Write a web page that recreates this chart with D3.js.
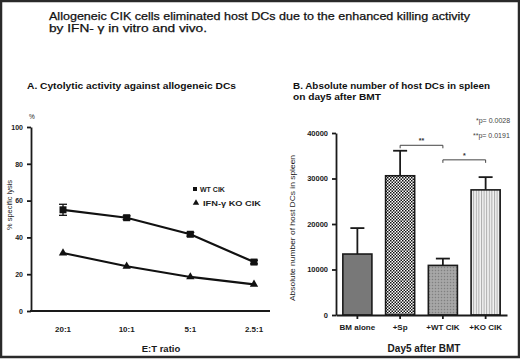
<!DOCTYPE html>
<html>
<head>
<meta charset="utf-8">
<script src="https://cdn.jsdelivr.net/npm/d3@7"></script>
<style>
  body { margin: 0; background: #fff; }
  svg { display: block; font-family: "Liberation Sans", Arial, sans-serif; }
  .axis path, .axis line { stroke: #1a1a1a; stroke-width: 1.8; }
  .axis text { fill: #1a1a1a; font-weight: bold; }
</style>
</head>
<body>
<div class="chart"></div>
<script>
// panel A data - % specific lysis by E:T ratio
var ratios = ["20:1", "10:1", "5:1", "2.5:1"];
var wtLysis = [55, 50.7, 41.7, 26.6];
var wtErr = [3, 1, 1, 1];
var koLysis = [31.5, 24.3, 18.5, 14.5];
var lysisTicks = [0, 20, 40, 60, 80, 100];

// panel B data - host DCs in spleen on day5
var groups = ["BM alone", "+Sp", "+WT CIK", "+KO CIK"];
var dcMean = [13400, 30600, 10900, 27500];
var dcSem = [5700, 5500, 1500, 2800];
var dcTicks = [0, 10000, 20000, 30000, 40000];

var svgWidth = 520, svgHeight = 359;

var svg = d3.select(".chart").append("svg")
  .attr("width", svgWidth)
  .attr("height", svgHeight);

// fill patterns for the bars
var defs = svg.append("defs");

var checker = defs.append("pattern").attr("id", "checker")
  .attr("width", 3).attr("height", 3).attr("patternUnits", "userSpaceOnUse");
checker.append("rect").attr("width", 3).attr("height", 3).attr("fill", "#fff");
checker.append("rect").attr("width", 1.5).attr("height", 1.5).attr("fill", "#111");
checker.append("rect").attr("x", 1.5).attr("y", 1.5).attr("width", 1.5).attr("height", 1.5).attr("fill", "#111");

var stipple = defs.append("pattern").attr("id", "stipple")
  .attr("width", 3).attr("height", 3).attr("patternUnits", "userSpaceOnUse");
stipple.append("rect").attr("width", 3).attr("height", 3).attr("fill", "#a0a0a0");
stipple.append("rect").attr("x", 0).attr("y", 0).attr("width", 1).attr("height", 1).attr("fill", "#808080");
stipple.append("rect").attr("x", 1.5).attr("y", 1.5).attr("width", 1).attr("height", 1).attr("fill", "#bbb");

var stripes = defs.append("pattern").attr("id", "stripes")
  .attr("width", 2.6).attr("height", 4).attr("patternUnits", "userSpaceOnUse");
stripes.append("rect").attr("width", 2.6).attr("height", 4).attr("fill", "#f2f2f2");
stripes.append("rect").attr("width", 1).attr("height", 4).attr("fill", "#ababab");

var barFills = ["#787878", "url(#checker)", "url(#stipple)", "url(#stripes)"];

// frame
svg.append("rect")
  .attr("x", 1).attr("y", 1)
  .attr("width", svgWidth - 2).attr("height", svgHeight - 3)
  .attr("fill", "none").attr("stroke", "#2a2a2a").attr("stroke-width", 2.5);

// main title
svg.append("text").attr("x", 49).attr("y", 20)
  .attr("font-size", 11).attr("fill", "#111").attr("stroke", "#111").attr("stroke-width", 0.25)
  .attr("textLength", 421).attr("lengthAdjust", "spacingAndGlyphs")
  .text("Allogeneic CIK cells eliminated host DCs due to the enhanced killing activity");
svg.append("text").attr("x", 49).attr("y", 32)
  .attr("font-size", 11).attr("fill", "#111").attr("stroke", "#111").attr("stroke-width", 0.25)
  .attr("textLength", 158).attr("lengthAdjust", "spacingAndGlyphs")
  .text("by IFN- \u03B3  in vitro and vivo.");

// ---------------- panel A ----------------
svg.append("text").attr("x", 27).attr("y", 89)
  .attr("font-size", 8.5).attr("font-weight", "bold").attr("fill", "#111")
  .attr("textLength", 209).attr("lengthAdjust", "spacingAndGlyphs")
  .text("A. Cytolytic activity against allogeneic DCs");

var xA = d3.scalePoint().domain(ratios).range([63, 254]);
var yA = d3.scaleLinear().domain([0, 100]).range([311, 127]);

var yAxisA = svg.append("g").attr("class", "axis")
  .attr("transform", "translate(31,0)")
  .call(d3.axisLeft(yA).tickValues(lysisTicks).tickSize(4).tickSizeOuter(0));
yAxisA.selectAll("text").attr("font-size", 7).attr("dx", -1);

svg.append("line").attr("x1", 30).attr("x2", 270).attr("y1", yA(0)).attr("y2", yA(0))
  .attr("stroke", "#1a1a1a").attr("stroke-width", 1.8);

svg.selectAll(".ratio-label").data(ratios).enter().append("text")
  .attr("class", "ratio-label")
  .attr("x", d => xA(d)).attr("y", 332)
  .attr("text-anchor", "middle").attr("font-size", 8).attr("font-weight", "bold").attr("fill", "#1a1a1a")
  .text(d => d);

svg.append("text").attr("x", 161).attr("y", 352)
  .attr("text-anchor", "middle").attr("font-size", 9.5).attr("font-weight", "bold").attr("fill", "#1a1a1a")
  .text("E:T ratio");

svg.append("text").attr("x", 32).attr("y", 119)
  .attr("text-anchor", "middle").attr("font-size", 6.5).attr("fill", "#222").text("%");

svg.append("text")
  .attr("transform", "translate(12,205) rotate(-90)")
  .attr("text-anchor", "middle").attr("font-size", 6.5).attr("fill", "#222")
  .attr("textLength", 50).attr("lengthAdjust", "spacingAndGlyphs")
  .text("% specific lysis");

var line = d3.line()
  .x((d, i) => xA(ratios[i]))
  .y(d => yA(d));

svg.append("path").datum(wtLysis).attr("d", line)
  .attr("fill", "none").attr("stroke", "#111").attr("stroke-width", 2.2);
svg.append("path").datum(koLysis).attr("d", line)
  .attr("fill", "none").attr("stroke", "#111").attr("stroke-width", 2.2);

// WT error bars
var errA = svg.append("g");
wtLysis.forEach(function (v, i) {
  var cx = xA(ratios[i]);
  errA.append("line").attr("x1", cx).attr("x2", cx)
    .attr("y1", yA(v - wtErr[i])).attr("y2", yA(v + wtErr[i]))
    .attr("stroke", "#111").attr("stroke-width", 1.3);
  [v - wtErr[i], v + wtErr[i]].forEach(function (e) {
    errA.append("line").attr("x1", cx - 4).attr("x2", cx + 4)
      .attr("y1", yA(e)).attr("y2", yA(e))
      .attr("stroke", "#111").attr("stroke-width", 1.3);
  });
});

svg.selectAll(".wt-pt").data(wtLysis).enter().append("rect")
  .attr("class", "wt-pt")
  .attr("x", (d, i) => xA(ratios[i]) - 3.5).attr("y", d => yA(d) - 3.5)
  .attr("width", 7).attr("height", 7).attr("fill", "#111");

var tri = d3.symbol().type(d3.symbolTriangle).size(30);
svg.selectAll(".ko-pt").data(koLysis).enter().append("path")
  .attr("class", "ko-pt")
  .attr("transform", (d, i) => `translate(${xA(ratios[i])},${yA(d)})`)
  .attr("d", tri).attr("fill", "#111");

// legend
svg.append("rect").attr("x", 193).attr("y", 187).attr("width", 4).attr("height", 4).attr("fill", "#111");
svg.append("text").attr("x", 200).attr("y", 191.5)
  .attr("font-size", 7).attr("font-weight", "bold").attr("fill", "#222").text("WT CIK");
svg.append("path").attr("transform", "translate(196,203)")
  .attr("d", d3.symbol().type(d3.symbolTriangle).size(18)).attr("fill", "#111");
svg.append("text").attr("x", 203).attr("y", 205.5)
  .attr("font-size", 7).attr("font-weight", "bold").attr("fill", "#222")
  .attr("textLength", 58).attr("lengthAdjust", "spacingAndGlyphs")
  .text("IFN-\u03B3 KO CIK");

// ---------------- panel B ----------------
svg.append("text").attr("x", 293).attr("y", 89)
  .attr("font-size", 8.5).attr("font-weight", "bold").attr("fill", "#111")
  .attr("textLength", 197).attr("lengthAdjust", "spacingAndGlyphs")
  .text("B. Absolute number of host DCs in spleen");
svg.append("text").attr("x", 293).attr("y", 100)
  .attr("font-size", 8.5).attr("font-weight", "bold").attr("fill", "#111")
  .attr("textLength", 88).attr("lengthAdjust", "spacingAndGlyphs")
  .text("on day5 after BMT");

var xB = d3.scaleBand().domain(groups).range([336, 507]).paddingInner(0.32).paddingOuter(0.16);
var yB = d3.scaleLinear().domain([0, 40000]).range([315, 133]);

// error whiskers (upper only)
var errB = svg.append("g");
dcMean.forEach(function (v, i) {
  var cx = xB(groups[i]) + xB.bandwidth() / 2;
  errB.append("line").attr("x1", cx).attr("x2", cx)
    .attr("y1", yB(v)).attr("y2", yB(v + dcSem[i]))
    .attr("stroke", "#1a1a1a").attr("stroke-width", 1.8);
  errB.append("line").attr("x1", cx - 7).attr("x2", cx + 7)
    .attr("y1", yB(v + dcSem[i])).attr("y2", yB(v + dcSem[i]))
    .attr("stroke", "#1a1a1a").attr("stroke-width", 1.8);
});

svg.selectAll(".bar").data(dcMean).enter().append("rect")
  .attr("class", "bar")
  .attr("x", (d, i) => xB(groups[i]))
  .attr("y", d => yB(d))
  .attr("width", xB.bandwidth())
  .attr("height", d => yB(0) - yB(d))
  .attr("fill", (d, i) => barFills[i])
  .attr("stroke", "#1a1a1a").attr("stroke-width", 1.6);

var yAxisB = svg.append("g").attr("class", "axis")
  .attr("transform", "translate(336,0)")
  .call(d3.axisLeft(yB).tickValues(dcTicks).tickFormat(d3.format("d")).tickSize(4).tickSizeOuter(0));
yAxisB.selectAll("text").attr("font-size", 7.5).attr("dx", -1);

var xAxisB = svg.append("g").attr("class", "axis")
  .attr("transform", `translate(0,${yB(0)})`)
  .call(d3.axisBottom(xB).tickSize(4).tickSizeOuter(0));
xAxisB.selectAll("text").attr("font-size", 8).attr("dy", "1.05em");

svg.append("text").attr("x", 424).attr("y", 352)
  .attr("text-anchor", "middle").attr("font-size", 10).attr("font-weight", "bold").attr("fill", "#1a1a1a")
  .text("Day5 after BMT");

svg.append("text")
  .attr("transform", "translate(295,228) rotate(-90)")
  .attr("text-anchor", "middle").attr("font-size", 7).attr("fill", "#222")
  .attr("textLength", 146).attr("lengthAdjust", "spacingAndGlyphs")
  .text("Absolute number of host DCs in spleen");

// significance brackets
function bracket(g1, g2, yv, label) {
  var x1 = xB(g1) + xB.bandwidth() / 2, x2 = xB(g2) + xB.bandwidth() / 2;
  var yy = yB(yv);
  svg.append("path")
    .attr("d", `M${x1},${yy + 3}V${yy}H${x2}V${yy + 3}`)
    .attr("fill", "none").attr("stroke", "#444").attr("stroke-width", 1);
  svg.append("text").attr("x", (x1 + x2) / 2).attr("y", yy - 2)
    .attr("text-anchor", "middle").attr("font-size", 7).attr("font-weight", "bold").attr("fill", "#333")
    .text(label);
}
bracket("+Sp", "+WT CIK", 37300, "**");
bracket("+WT CIK", "+KO CIK", 34100, "*");

svg.append("text").attr("x", 476).attr("y", 123)
  .attr("font-size", 7).attr("fill", "#444").text("*p= 0.0028");
svg.append("text").attr("x", 473).attr("y", 138)
  .attr("font-size", 7).attr("fill", "#444").text("**p= 0.0191");
</script>
</body>
</html>
